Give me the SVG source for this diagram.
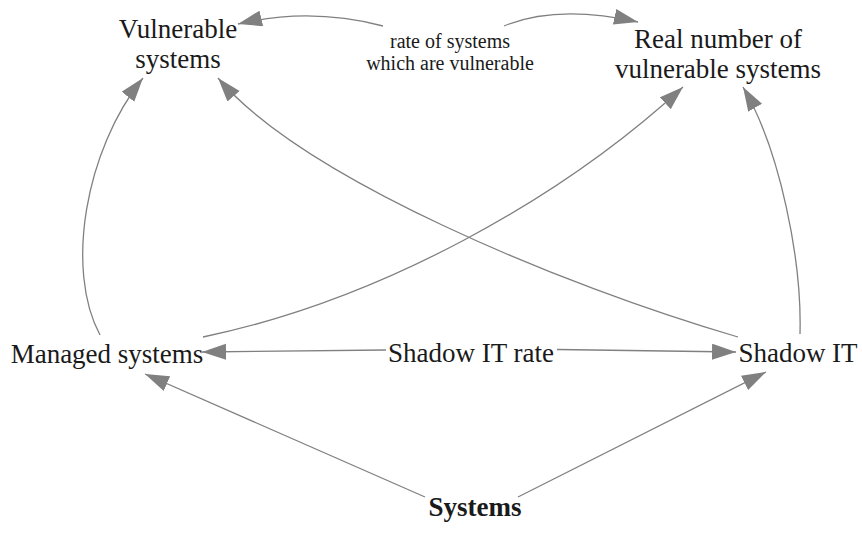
<svg xmlns="http://www.w3.org/2000/svg" width="862" height="536" viewBox="0 0 862 536">
<style>
text{font-family:"Liberation Serif","Times New Roman",serif;fill:#1a1a1a;text-anchor:middle}
.n{font-size:27px}
.s{font-size:20px}
.b{font-weight:bold}
.c{fill:none;stroke:#808080;stroke-width:1.3;marker-end:url(#ah)}
</style>
<defs>
<marker id="ah" markerUnits="userSpaceOnUse" markerWidth="26" markerHeight="18" refX="24" refY="8" orient="auto">
<path d="M0,0 L24,8 L0,16 z" fill="#808080"/>
</marker>
</defs>
<rect width="862" height="536" fill="#fff"/>
<g id="connectors">
<path class="c" d="M383,26 Q310,7 238,24"/>
<path class="c" d="M504,26 Q557,4 638,22"/>
<path class="c" d="M100,335 C65,270 85,150 143,78"/>
<path class="c" d="M738,337 C560,285 303,178 218,78"/>
<path class="c" d="M203,337 C380,300 560,200 683,87"/>
<path class="c" d="M800,334 C802,260 780,150 743,87"/>
<path class="c" d="M386,350 L202,352"/>
<path class="c" d="M557,349.5 L736,352"/>
<path class="c" d="M425,497 L145,374"/>
<path class="c" d="M518,497 L766,372"/>
</g>
<g id="vulnerable">
<text class="n" x="178" y="38">Vulnerable</text>
<text class="n" x="178" y="68">systems</text>
</g>
<g id="real">
<text class="n" x="718" y="48">Real number of</text>
<text class="n" x="718" y="78">vulnerable systems</text>
</g>
<g id="rate">
<text class="s" x="450" y="48">rate of systems</text>
<text class="s" x="450" y="70">which are vulnerable</text>
</g>
<g id="managed">
<text class="n" x="107" y="363">Managed systems</text>
</g>
<g id="shadowrate">
<text class="n" x="471" y="362">Shadow IT rate</text>
</g>
<g id="shadow">
<text class="n" x="798" y="362">Shadow IT</text>
</g>
<g id="systems">
<text class="n b" x="475" y="516">Systems</text>
</g>
</svg>
